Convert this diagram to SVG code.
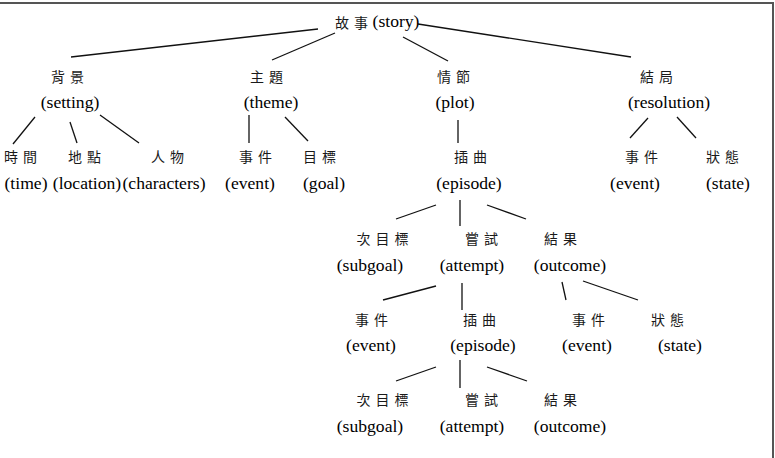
<svg xmlns="http://www.w3.org/2000/svg" width="775" height="458" viewBox="0 0 775 458">
<style>
.en{font-family:"Liberation Serif","Times New Roman",serif;font-size:17.6px;fill:#000;text-anchor:middle}
.zh{font-family:"Noto Sans CJK TC","Noto Sans CJK SC",sans-serif;font-size:14px;letter-spacing:5px;fill:#1a1a1a;text-anchor:middle}
.ln{stroke:#111;stroke-width:1.3;fill:none}
.frame{stroke:#555;stroke-width:2;fill:none}
</style>
<rect width="775" height="458" fill="#fff"/>
<path class="frame" d="M0 3 H773 V458"/>
<g id="connectors">
<line class="ln" x1="318" y1="29" x2="71" y2="57"/>
<line class="ln" x1="335" y1="33" x2="272" y2="60"/>
<line class="ln" x1="403" y1="37" x2="448" y2="61"/>
<line class="ln" x1="418" y1="24" x2="631" y2="57"/>
<line class="ln" x1="35" y1="117" x2="13" y2="144"/>
<line class="ln" x1="70" y1="122" x2="77" y2="143"/>
<line class="ln" x1="100" y1="115" x2="139" y2="143"/>
<line class="ln" x1="249" y1="115" x2="249" y2="143"/>
<line class="ln" x1="285" y1="117" x2="308" y2="141"/>
<line class="ln" x1="458" y1="120" x2="458" y2="143"/>
<line class="ln" x1="648" y1="118" x2="630" y2="138"/>
<line class="ln" x1="677" y1="117" x2="696" y2="138"/>
<line class="ln" x1="436" y1="205" x2="396" y2="219"/>
<line class="ln" x1="460" y1="200" x2="460" y2="226"/>
<line class="ln" x1="487" y1="205" x2="526" y2="219"/>
<line class="ln" x1="436" y1="286" x2="383" y2="300"/>
<line class="ln" x1="462" y1="283" x2="462" y2="310"/>
<line class="ln" x1="562" y1="282" x2="566" y2="300"/>
<line class="ln" x1="583" y1="281" x2="638" y2="300"/>
<line class="ln" x1="436" y1="367" x2="396" y2="381"/>
<line class="ln" x1="460" y1="360" x2="460" y2="388"/>
<line class="ln" x1="487" y1="367" x2="527" y2="381"/>
</g>
<g id="story"><text class="zh" x="354" y="28">故事</text><text class="en" x="396" y="27">(story)</text></g>
<g id="setting"><text class="zh" x="70" y="82">背景</text><text class="en" x="70" y="108">(setting)</text></g>
<g id="theme"><text class="zh" x="269" y="82">主題</text><text class="en" x="271" y="108">(theme)</text></g>
<g id="plot"><text class="zh" x="456" y="82">情節</text><text class="en" x="455" y="108">(plot)</text></g>
<g id="resolution"><text class="zh" x="659" y="82">結局</text><text class="en" x="669" y="108">(resolution)</text></g>
<g id="time"><text class="zh" x="23" y="162">時間</text><text class="en" x="26" y="189">(time)</text></g>
<g id="location"><text class="zh" x="87" y="162">地點</text><text class="en" x="87" y="189">(location)</text></g>
<g id="characters"><text class="zh" x="170" y="162">人物</text><text class="en" x="164" y="189">(characters)</text></g>
<g id="theme-event"><text class="zh" x="258" y="162">事件</text><text class="en" x="250" y="189">(event)</text></g>
<g id="goal"><text class="zh" x="322" y="162">目標</text><text class="en" x="324" y="189">(goal)</text></g>
<g id="episode"><text class="zh" x="473" y="162">插曲</text><text class="en" x="469" y="189">(episode)</text></g>
<g id="res-event"><text class="zh" x="644" y="162">事件</text><text class="en" x="635" y="189">(event)</text></g>
<g id="res-state"><text class="zh" x="725" y="162">狀態</text><text class="en" x="728" y="189">(state)</text></g>
<g id="subgoal1"><text class="zh" x="385" y="244">次目標</text><text class="en" x="370" y="271">(subgoal)</text></g>
<g id="attempt1"><text class="zh" x="484" y="244">嘗試</text><text class="en" x="472" y="271">(attempt)</text></g>
<g id="outcome1"><text class="zh" x="563" y="244">結果</text><text class="en" x="570" y="271">(outcome)</text></g>
<g id="att-event"><text class="zh" x="374" y="325">事件</text><text class="en" x="371" y="351">(event)</text></g>
<g id="episode2"><text class="zh" x="482" y="325">插曲</text><text class="en" x="483" y="351">(episode)</text></g>
<g id="out-event"><text class="zh" x="591" y="325">事件</text><text class="en" x="587" y="351">(event)</text></g>
<g id="out-state"><text class="zh" x="670" y="325">狀態</text><text class="en" x="680" y="351">(state)</text></g>
<g id="subgoal2"><text class="zh" x="385" y="405">次目標</text><text class="en" x="370" y="432">(subgoal)</text></g>
<g id="attempt2"><text class="zh" x="484" y="405">嘗試</text><text class="en" x="472" y="432">(attempt)</text></g>
<g id="outcome2"><text class="zh" x="563" y="405">結果</text><text class="en" x="570" y="432">(outcome)</text></g>
</svg>
